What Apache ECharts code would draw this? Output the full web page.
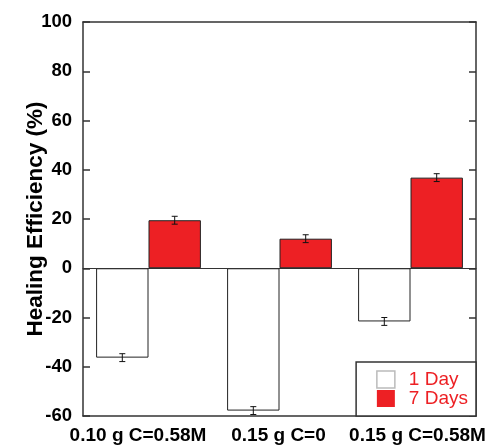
<!DOCTYPE html>
<html>
<head>
<meta charset="utf-8">
<script src="https://cdn.jsdelivr.net/npm/echarts@6/dist/echarts.min.js"></script>
<style>
  html, body { margin: 0; padding: 0; background: #fff; }
  #chart { width: 490px; height: 446px; }
</style>
</head>
<body>
<div id="chart"></div>
<script>
// 数据
const categories = ['0.10 g C=0.58M', '0.15 g C=0', '0.15 g C=0.58M'];
const day1 = [-36.3, -57.8, -21.6];
const day7 = [19.5, 12.0, 36.8];
const day1Err = [1.6, 1.6, 1.6];
const day7Err = [1.6, 1.6, 1.6];
const yMin = -60, yMax = 100, yStep = 20;

const axisColor = '#333';
const red = '#ed2024';
const font = '"Liberation Sans", Arial, Helvetica, sans-serif';

// x标签有一点偏移
const labelPad = [[0, 21, 0, 0], [0, 2, 0, 0], [0, 0, 0, 14]];
const catItems = categories.map((c, i) => ({ value: c, textStyle: { padding: labelPad[i] } }));

// 零线上的小刻度
const zeroCats = Array.from({ length: 30 }, (_, i) => String(i));

function errSeries(vals, errs, side) {
  return {
    type: 'custom',
    xAxisIndex: 0,
    yAxisIndex: 0,
    z: 5,
    data: vals.map((v, i) => [i, v, errs[i]]),
    encode: { x: 0, y: 1 },
    renderItem(params, api) {
      const i = api.value(0), v = api.value(1), e = api.value(2);
      const band = api.size([1, 0])[0];
      const x = api.coord([i, 0])[0] + side * band * 0.2;
      const y1 = api.coord([i, v - e])[1];
      const y2 = api.coord([i, v + e])[1];
      const cap = 3;
      const st = { stroke: '#111', lineWidth: 1 };
      return {
        type: 'group',
        children: [
          { type: 'line', shape: { x1: x, y1: y1, x2: x, y2: y2 }, style: st },
          { type: 'line', shape: { x1: x - cap, y1: y1, x2: x + cap, y2: y1 }, style: st },
          { type: 'line', shape: { x1: x - cap, y1: y2, x2: x + cap, y2: y2 }, style: st }
        ]
      };
    }
  };
}

const chart = echarts.init(document.getElementById('chart'));
const lineStyle = { color: axisColor, width: 1.5 };

chart.setOption({
  animation: false,
  backgroundColor: '#fff',
  grid: { left: 83, right: 14, top: 22, bottom: 30, containLabel: false },
  legend: {
    right: 14,
    bottom: 30,
    orient: 'vertical',
    icon: 'rect',
    itemWidth: 18,
    itemHeight: 17,
    itemGap: 0,
    padding: [8, 8, 8, 20],
    backgroundColor: '#fff',
    borderColor: axisColor,
    borderWidth: 1.5,
    textStyle: { color: red, fontSize: 19, fontFamily: font, padding: [0, 0, 0, 9] },
    data: [
      { name: '1 Day', itemStyle: { color: '#fff', borderColor: '#bbb', borderWidth: 1.5 } },
      { name: '7 Days', itemStyle: { color: red, borderWidth: 0 } }
    ]
  },
  xAxis: [
    {
      type: 'category',
      data: catItems,
      position: 'bottom',
      axisLine: { onZero: false, lineStyle },
      axisTick: { inside: true, length: 6, lineStyle },
      axisLabel: { interval: 0, margin: 10, color: '#000', fontSize: 19, fontWeight: 'bold', fontFamily: font }
    },
    {
      type: 'category',
      data: categories,
      position: 'top',
      axisLine: { onZero: false, lineStyle },
      axisTick: { inside: true, length: 6, lineStyle },
      axisLabel: { show: false }
    },
    {
      type: 'category',
      data: zeroCats,
      position: 'bottom',
      axisLine: { onZero: true, lineStyle: { color: axisColor, width: 1.2 } },
      axisTick: { length: 4, interval: (idx) => idx === 11 || idx === 21, lineStyle },
      axisLabel: { show: false }
    }
  ],
  yAxis: [
    {
      type: 'value',
      min: yMin,
      max: yMax,
      interval: yStep,
      position: 'left',
      name: 'Healing Efficiency (%)',
      nameLocation: 'middle',
      nameRotate: 90,
      nameGap: 36,
      nameMoveOverlap: false,
      nameTextStyle: { color: '#000', fontSize: 22.5, fontWeight: 'bold', fontFamily: font },
      axisLine: { show: true, lineStyle },
      axisTick: { show: true, inside: true, length: 7, lineStyle },
      axisLabel: { margin: 11, color: '#000', fontSize: 18.5, fontWeight: 'bold', fontFamily: font },
      splitLine: { show: false }
    },
    {
      type: 'value',
      min: yMin,
      max: yMax,
      interval: yStep,
      position: 'right',
      axisLine: { show: true, lineStyle },
      axisTick: { show: true, inside: true, length: 7, lineStyle },
      axisLabel: { show: false },
      splitLine: { show: false }
    }
  ],
  series: [
    {
      name: '1 Day',
      type: 'bar',
      data: day1,
      barGap: '0%',
      barCategoryGap: '20%',
      itemStyle: { color: '#fff', borderColor: '#222', borderWidth: 1 }
    },
    {
      name: '7 Days',
      type: 'bar',
      data: day7,
      itemStyle: { color: red, borderColor: '#222', borderWidth: 1 }
    },
    errSeries(day1, day1Err, -1),
    errSeries(day7, day7Err, 1)
  ]
});
</script>
</body>
</html>
